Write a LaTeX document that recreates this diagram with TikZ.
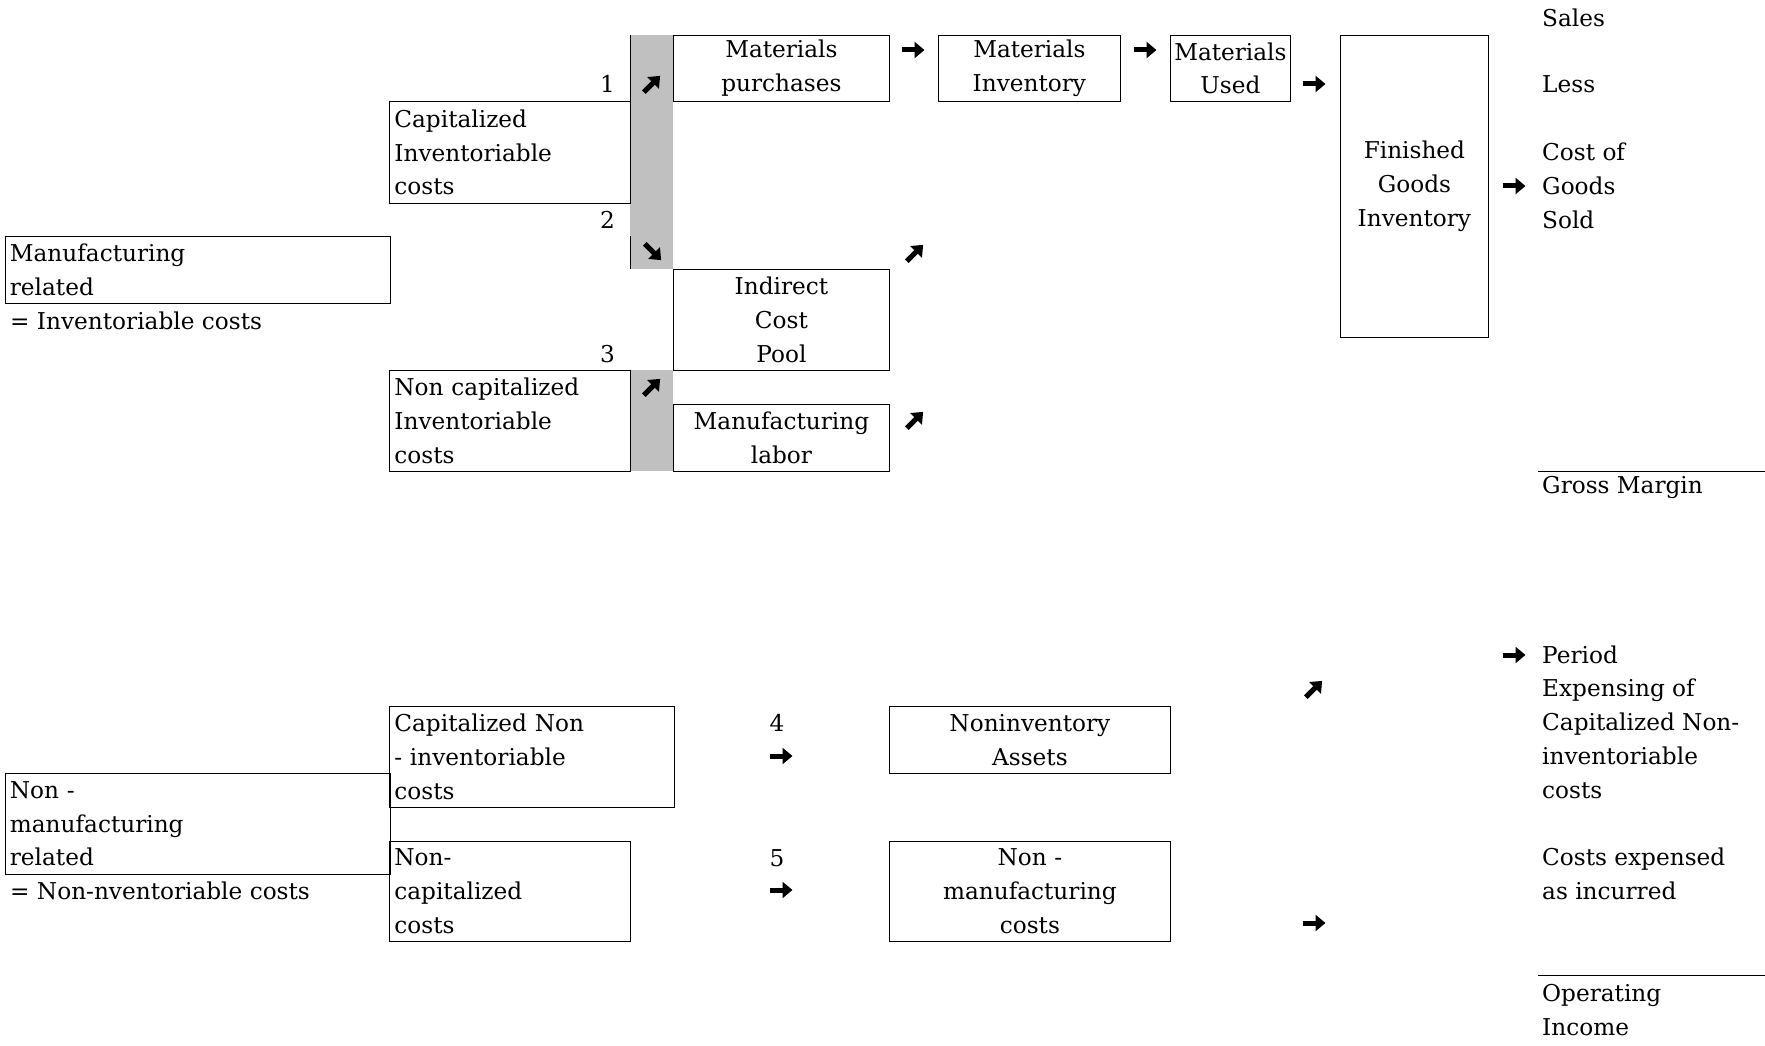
\documentclass[tikz,border=0pt]{standalone}
\usepackage{fontspec}
\setmainfont{DejaVu Serif}
\usetikzlibrary{arrows.meta}
\definecolor{barfill}{RGB}{192,192,192}

\tikzset{
  costbox/.style  = {shape=rectangle, draw, line width=0.8pt, inner xsep=5pt,
                     inner ysep=0pt, anchor=north west},
  leftbox/.style  = {costbox, align=left},
  midbox/.style   = {costbox, align=center},
  sized/.style 2 args = {minimum width=#1pt, minimum height=#2pt},
  plain/.style    = {inner sep=0pt, anchor=west, align=left},
  num/.style      = {inner sep=0pt, anchor=east},
  boldarrow/.pic  = {\draw[line width=5pt, -{Triangle[length=10pt,width=16pt]}]
                       (-11.5,0) -- (11.5,0);}
}

\begin{document}
\begin{tikzpicture}
[
x=1pt, y=-1pt,
    every node/.style = {font=\fontsize{23.2}{33.8}\selectfont}
  ]
\useasboundingbox (0,0) rectangle (1765,1046);

\fill[barfill] (630,35) rectangle (673,269);
\fill[barfill] (630,370) rectangle (673,471);
\draw[line width=0.8pt] (630,35) -- (630,101) (630,236) -- (630,269);

\node[leftbox, sized={385}{67}, text width=375pt] (mfg) at (4.5,236) {Manufacturing\\related};
\node[plain] (mfgeq) at (10,321) {= Inventoriable costs};
\node[leftbox, sized={241}{102}, text width=231pt] (capinv) at (389,101) {Capitalized\\Inventoriable\\costs};
\node[leftbox, sized={241}{101}, text width=231pt] (noncapinv) at (389,370) {Non capitalized\\Inventoriable\\costs};

\node[num] (n1) at (615,84) {1};
\node[num] (n2) at (615,220) {2};
\node[num] (n3) at (615,354) {3};
\pic[rotate=45]  at (652,84)  {boldarrow};
\pic[rotate=-45] at (653,252) {boldarrow};
\pic[rotate=45]  at (652,387) {boldarrow};

\node[midbox, sized={216}{66}] (matpur) at (673,35) {Materials\\purchases};
\node[midbox, sized={216}{101}] (pool) at (673,269) {Indirect\\Cost\\Pool};
\node[midbox, sized={216}{67}] (labor) at (673,404) {Manufacturing\\labor};
\node[midbox, sized={182}{66}] (matinv) at (938,35) {Materials\\Inventory};
\node[midbox, sized={120}{66}, inner xsep=0pt] (matused) at (1170,35) {Materials\\Used};
\node[midbox, sized={148}{302}] (fgi) at (1340,35) {Finished\\Goods\\Inventory};

\pic at (913,50)  {boldarrow};
\pic at (1145,50) {boldarrow};
\pic at (1314,84) {boldarrow};
\pic at (1514,186) {boldarrow};
\pic[rotate=45] at (915,253) {boldarrow};
\pic[rotate=45] at (915,420) {boldarrow};

\node[plain] (sales) at (1542,18) {Sales};
\node[plain] (less) at (1542,84) {Less};
\node[plain] (cogs) at (1542,186) {Cost of\\Goods\\Sold};
\draw[line width=0.8pt] (1538,471) -- (1765,471);
\node[plain] (gm) at (1542,487) {Gross Margin};

\node[leftbox, sized={385}{101}, text width=375pt] (nonmfg) at (4.5,773) {Non -\\manufacturing\\related};
\node[plain] (nonmfgeq) at (10,891) {= Non-nventoriable costs};
\node[leftbox, sized={285}{101}, text width=275pt] (capnoninv) at (389,706) {Capitalized Non\\- inventoriable\\costs};
\node[leftbox, sized={241}{100}, text width=231pt] (noncap) at (389,841) {Non-\\capitalized\\costs};

\node (n4) at (777,723) {4};
\pic at (781,756) {boldarrow};
\node (n5) at (777,858) {5};
\pic at (781,890) {boldarrow};

\node[midbox, sized={281}{67}] (assets) at (889,706) {Noninventory\\Assets};
\node[midbox, sized={281}{100}] (nmcosts) at (889,841) {Non -\\manufacturing\\costs};

\pic[rotate=45] at (1314,689) {boldarrow};
\pic at (1314,923) {boldarrow};
\pic at (1514,655) {boldarrow};

\node[plain] (period) at (1542,722) {Period\\Expensing of\\Capitalized Non-\\inventoriable\\costs};
\node[plain] (incurred) at (1542,874) {Costs expensed\\as incurred};
\draw[line width=0.8pt] (1538,975) -- (1765,975);
\node[plain] (opinc) at (1542,1010) {Operating\\Income};
\end{tikzpicture}
\end{document}
